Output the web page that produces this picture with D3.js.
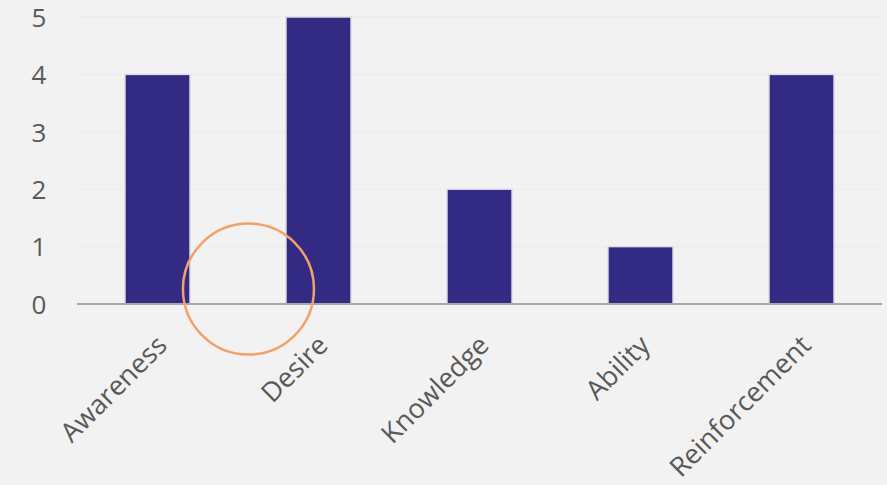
<!DOCTYPE html>
<html>
<head>
<meta charset="utf-8">
<script src="https://cdn.jsdelivr.net/npm/d3@7"></script>
<style>
  body { margin: 0; background: #f2f2f2; }
  svg { display: block; }
</style>
</head>
<body>
<div id="chart"></div>
<script>
// Daten
var categories = ["Awareness", "Desire", "Knowledge", "Ability", "Reinforcement"];
var values = [4, 5, 2, 1, 4];
var yTicks = [0, 1, 2, 3, 4, 5];

var width = 887, height = 485;

// Zeichenfläche
var svg = d3.select("#chart")
  .append("svg")
  .attr("width", width)
  .attr("height", height);

svg.append("rect")
  .attr("width", width)
  .attr("height", height)
  .style("fill", "#f2f2f2");

// Skalen
var x = d3.scaleBand()
  .domain(categories)
  .range([77, 882])
  .paddingInner(0.596)
  .paddingOuter(0.298);

var y = d3.scaleLinear()
  .domain([0, 5])
  .range([304, 17]);

// Gitterlinien
svg.append("g")
  .selectAll("line")
  .data(yTicks.slice(1))
  .enter().append("line")
  .attr("x1", 77)
  .attr("x2", 882)
  .attr("y1", function(d) { return y(d); })
  .attr("y2", function(d) { return y(d); })
  .style("stroke", "#e9ebeb")
  .style("stroke-width", 1);

// y-Achse (nur Beschriftung)
var yAxis = svg.append("g")
  .attr("transform", "translate(52,0)")
  .call(d3.axisLeft(y).tickValues(yTicks).tickFormat(d3.format("d")).tickSize(0).tickPadding(0));
yAxis.select(".domain").remove();
yAxis.selectAll("text")
  .attr("x", -13)
  .attr("dy", "0.36em")
  .style("text-anchor", "middle")
  .style("font-family", "'Open Sans', sans-serif")
  .style("font-size", "26px")
  .style("fill", "#595959");

// Balken
svg.append("g")
  .selectAll("rect")
  .data(values)
  .enter().append("rect")
  .attr("x", function(d, i) { return x(categories[i]); })
  .attr("y", function(d) { return y(d); })
  .attr("width", x.bandwidth())
  .attr("height", function(d) { return y(0) - y(d); })
  .style("fill", "#332a84")
  .style("stroke", "#dcdce4")
  .style("stroke-width", 1.5);

// x-Achse
var xAxis = svg.append("g")
  .attr("transform", "translate(0," + y(0) + ")")
  .call(d3.axisBottom(x).tickSize(0).tickSizeOuter(0).tickPadding(0));
xAxis.select(".domain")
  .attr("d", "M77,0H882")
  .style("stroke", "#a5a9a9")
  .style("stroke-width", 2);
xAxis.selectAll("text")
  .attr("y", 0)
  .attr("dy", 0)
  .attr("transform", "translate(11,43) rotate(-45)")
  .style("text-anchor", "end")
  .style("font-family", "'Open Sans', sans-serif")
  .style("font-size", "27px")
  .style("fill", "#595959");

// Markierungskreis zwischen Awareness und Desire
svg.append("circle")
  .attr("cx", x("Awareness") + x.bandwidth() / 2 + x.step() * 0.565)
  .attr("cy", y(0.26))
  .attr("r", 65.5)
  .style("fill", "none")
  .style("stroke", "#f4a06a")
  .style("stroke-width", 2.5);
</script>
</body>
</html>
